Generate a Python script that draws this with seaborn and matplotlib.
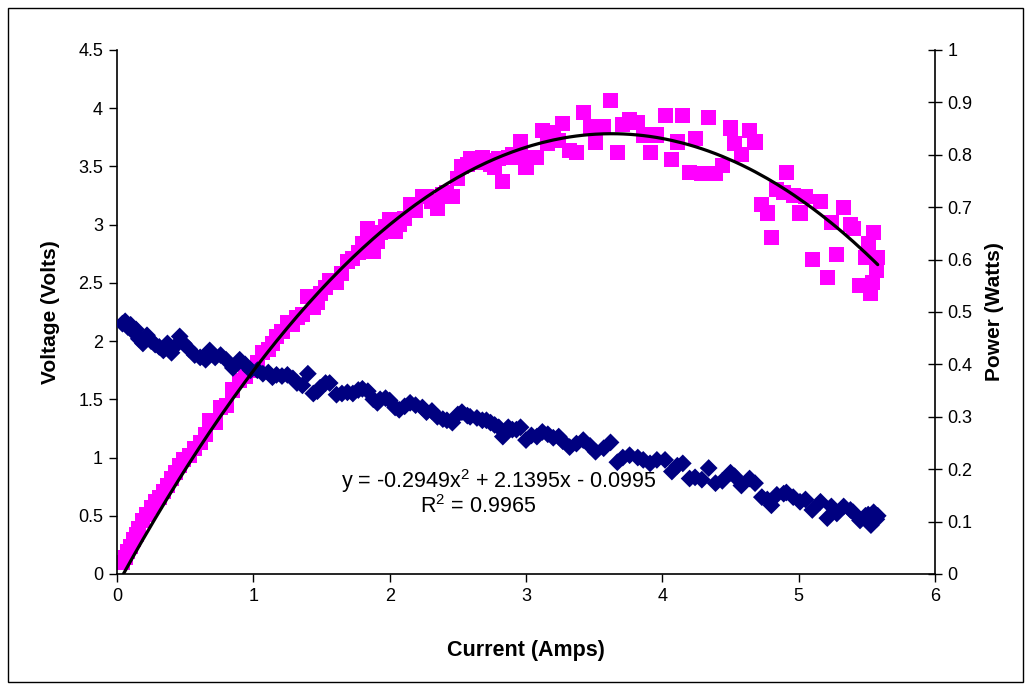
import numpy as np
import pandas as pd
import matplotlib
matplotlib.use("Agg")
import matplotlib.pyplot as plt
import seaborn as sns
from matplotlib.patches import Rectangle

# Dados
corrente = [0.04, 0.06, 0.08, 0.10, 0.12, 0.14, 0.16, 0.19, 0.22, 0.25, 0.28, 0.31, 0.34, 0.37, 0.40,
            0.43, 0.46, 0.49, 0.53, 0.57, 0.61, 0.65, 0.68, 0.72, 0.76, 0.80, 0.85, 0.90, 0.94, 0.98,
            1.03, 1.07, 1.11, 1.14, 1.17, 1.21, 1.25, 1.29, 1.32, 1.36, 1.40, 1.44, 1.47, 1.49, 1.53,
            1.56, 1.61, 1.65, 1.69, 1.73, 1.77, 1.80, 1.84, 1.88, 1.91, 1.93, 1.97, 2.00, 2.04, 2.07,
            2.11, 2.15, 2.19, 2.24, 2.27, 2.31, 2.35, 2.39, 2.42, 2.46, 2.50, 2.53, 2.57, 2.59, 2.64,
            2.68, 2.71, 2.74, 2.77, 2.80, 2.83, 2.87, 2.90, 2.93, 2.96, 3.00, 3.04, 3.08, 3.12, 3.16,
            3.20, 3.24, 3.27, 3.32, 3.37, 3.42, 3.47, 3.51, 3.57, 3.62, 3.67, 3.71, 3.76, 3.82, 3.86,
            3.91, 3.96, 4.02, 4.07, 4.11, 4.15, 4.20, 4.24, 4.29, 4.34, 4.39, 4.44, 4.50, 4.53, 4.58,
            4.64, 4.68, 4.73, 4.77, 4.80, 4.84, 4.89, 4.91, 4.96, 5.01, 5.05, 5.10, 5.16, 5.21, 5.24,
            5.28, 5.33, 5.38, 5.40, 5.45, 5.49, 5.51, 5.53, 5.54, 5.55, 5.57, 5.58]

tensao = [2.15, 2.17, 2.12, 2.14, 2.08, 2.10, 2.02, 1.98, 2.05, 2.00, 1.97, 1.95, 1.92, 1.98, 1.90,
          1.96, 2.04, 1.98, 1.93, 1.88, 1.86, 1.84, 1.92, 1.86, 1.88, 1.84, 1.77, 1.84, 1.80, 1.75,
          1.75, 1.72, 1.73, 1.69, 1.71, 1.70, 1.71, 1.68, 1.64, 1.62, 1.72, 1.55, 1.57, 1.60, 1.64,
          1.64, 1.54, 1.55, 1.56, 1.55, 1.58, 1.59, 1.57, 1.50, 1.47, 1.50, 1.51, 1.49, 1.43, 1.41,
          1.44, 1.47, 1.45, 1.43, 1.39, 1.40, 1.35, 1.33, 1.32, 1.30, 1.37, 1.39, 1.36, 1.35, 1.34,
          1.32, 1.32, 1.30, 1.28, 1.26, 1.18, 1.26, 1.24, 1.24, 1.26, 1.15, 1.19, 1.18, 1.22, 1.20,
          1.17, 1.18, 1.14, 1.09, 1.12, 1.15, 1.10, 1.05, 1.08, 1.13, 0.96, 1.00, 1.02, 1.00, 0.98,
          0.95, 0.98, 0.98, 0.88, 0.93, 0.95, 0.82, 0.83, 0.81, 0.91, 0.78, 0.80, 0.87, 0.84, 0.76,
          0.82, 0.78, 0.66, 0.64, 0.59, 0.68, 0.69, 0.70, 0.66, 0.62, 0.64, 0.55, 0.62, 0.48, 0.58,
          0.52, 0.58, 0.55, 0.53, 0.46, 0.50, 0.51, 0.42, 0.45, 0.53, 0.47, 0.50]

potencia = [0.10, 0.14, 0.19, 0.24, 0.30, 0.34, 0.39, 0.46, 0.51, 0.57, 0.62, 0.66, 0.71, 0.76, 0.82,
            0.87, 0.93, 0.98, 1.02, 1.08, 1.13, 1.20, 1.32, 1.30, 1.43, 1.45, 1.58, 1.66, 1.70, 1.75,
            1.82, 1.90, 1.93, 1.98, 2.04, 2.08, 2.16, 2.14, 2.20, 2.23, 2.38, 2.29, 2.33, 2.41, 2.46,
            2.52, 2.50, 2.58, 2.68, 2.71, 2.76, 2.84, 2.97, 2.77, 2.86, 2.93, 2.98, 3.04, 2.94, 3.00,
            3.05, 3.17, 3.12, 3.24, 3.24, 3.20, 3.14, 3.26, 3.28, 3.24, 3.40, 3.50, 3.52, 3.57, 3.53,
            3.58, 3.55, 3.52, 3.49, 3.57, 3.37, 3.58, 3.60, 3.58, 3.71, 3.49, 3.58, 3.58, 3.81, 3.70,
            3.79, 3.72, 3.87, 3.64, 3.62, 3.96, 3.84, 3.71, 3.84, 4.07, 3.62, 3.86, 3.90, 3.88, 3.77,
            3.62, 3.77, 3.94, 3.56, 3.71, 3.94, 3.45, 3.74, 3.44, 3.92, 3.44, 3.51, 3.83, 3.70, 3.60,
            3.81, 3.71, 3.17, 3.10, 2.89, 3.30, 3.28, 3.45, 3.25, 3.10, 3.24, 2.70, 3.20, 2.55, 3.02,
            2.74, 3.15, 3.00, 2.97, 2.48, 2.72, 2.84, 2.41, 2.50, 2.93, 2.61, 2.72]

# Coeficientes da linha de tendência (polinomial de grau 2)
coef_tendencia = [-0.2949, 2.1395, -0.0995]

df = pd.DataFrame({"Corrente": corrente, "Tensao": tensao, "Potencia": potencia})
df["Tendencia"] = np.polyval(coef_tendencia, df["Corrente"])

sns.set_style("white")
plt.rcParams["font.family"] = ["Liberation Sans", "DejaVu Sans"]
plt.rcParams["mathtext.fontset"] = "custom"
plt.rcParams["mathtext.rm"] = "Liberation Sans"
plt.rcParams["text.color"] = "black"
plt.rcParams["axes.labelcolor"] = "black"
plt.rcParams["xtick.color"] = "black"
plt.rcParams["ytick.color"] = "black"

fig = plt.figure(figsize=(10.31, 6.9), dpi=100)
ax = fig.add_axes([117 / 1031, 1 - 574 / 690, (935 - 117) / 1031, (574 - 50) / 690])

sns.scatterplot(data=df, x="Corrente", y="Potencia", marker="s", s=118, color="#FF00FF",
                edgecolor="none", ax=ax, zorder=2)
sns.scatterplot(data=df, x="Corrente", y="Tensao", marker="D", s=82, color="#000080",
                edgecolor="none", ax=ax, zorder=3)
sns.lineplot(data=df, x="Corrente", y="Tendencia", color="black", linewidth=2.3, sort=False,
             ax=ax, zorder=4)

ax.set_xlim(0, 6)
ax.set_ylim(0, 4.5)
ax.set_xticks(np.arange(0, 7, 1))
ax.set_yticks(np.arange(0, 4.6, 0.5))
ax.set_yticklabels(["0", "0.5", "1", "1.5", "2", "2.5", "3", "3.5", "4", "4.5"])
ax.tick_params(axis="both", direction="out", length=6, width=1, labelsize=13, color="black",
               left=True, bottom=True, pad=4)
ax.set_xlabel("Current (Amps)", fontsize=15.5, fontweight="bold", labelpad=25)
ax.set_ylabel("Voltage (Volts)", fontsize=15, fontweight="bold", labelpad=13)
for lado in ["top", "right"]:
    ax.spines[lado].set_visible(False)
for lado in ["left", "bottom"]:
    ax.spines[lado].set_color("black")
    ax.spines[lado].set_linewidth(1.2)

# Eixo secundário para potência
ax2 = ax.twinx()
ax2.set_ylim(0, 1)
ax2.set_yticks(np.arange(0, 1.01, 0.1))
ax2.set_yticklabels(["0", "0.1", "0.2", "0.3", "0.4", "0.5", "0.6", "0.7", "0.8", "0.9", "1"])
ax2.tick_params(axis="y", direction="inout", length=10, width=1, labelsize=13, right=True,
                color="black", pad=4)
ax2.set_ylabel("Power (Watts)", fontsize=15, fontweight="bold", labelpad=9)
for lado in ["top", "left", "bottom"]:
    ax2.spines[lado].set_visible(False)
ax2.spines["right"].set_color("black")
ax2.spines["right"].set_linewidth(1.2)

ax.text(2.80, 0.80, r"y = -0.2949x$^{2}$ + 2.1395x - 0.0995", fontsize=15.5, ha="center",
        va="center", zorder=5)
ax.text(2.65, 0.575, r"R$^{2}$ = 0.9965", fontsize=15.5, ha="center", va="center", zorder=5)

# Borda da área do gráfico
fig.patches.append(Rectangle((8 / 1031, 8 / 690), 1015 / 1031, 674 / 690, transform=fig.transFigure,
                             fill=False, edgecolor="black", linewidth=1))

fig.savefig("out.png", dpi=100)
